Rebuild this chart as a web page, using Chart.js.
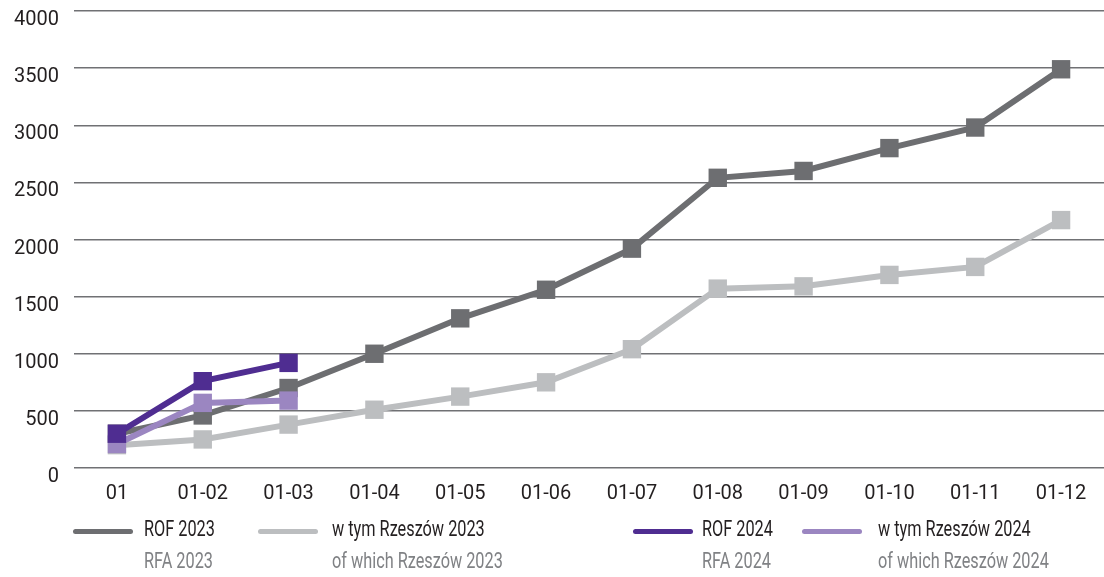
<!DOCTYPE html>
<html>
<head>
<meta charset="utf-8">
<script src="https://cdn.jsdelivr.net/npm/chart.js@4/dist/chart.umd.min.js"></script>
<style>
  body { margin: 0; background: #fff; font-family: Roboto, sans-serif; }
  #wrap { position: relative; width: 1104px; height: 577px; overflow: hidden; }
  #box { position: absolute; left: 0; top: 0; width: 1104px; height: 520px; }
  .sw { position: absolute; height: 5px; border-radius: 3px; top: 529px; }
  .lab { position: absolute; font-size: 22px; line-height: 24px; white-space: nowrap; transform: scaleX(0.74); transform-origin: 0 0; }
  .l1 { top: 517px; color: #231f20; }
  .l2 { top: 549px; color: #808285; }
</style>
</head>
<body>
<div id="wrap">
  <div id="box"><canvas id="chart"></canvas></div>

  <div class="sw" style="left:73px;width:60px;background:#6d6e71"></div>
  <div class="lab l1" style="left:144px">ROF 2023</div>
  <div class="lab l2" style="left:144px">RFA 2023</div>

  <div class="sw" style="left:258px;width:60px;background:#bcbec0"></div>
  <div class="lab l1" style="left:332px">w tym Rzeszów 2023</div>
  <div class="lab l2" style="left:332px">of which Rzeszów 2023</div>

  <div class="sw" style="left:633px;width:60px;background:#4f2d91"></div>
  <div class="lab l1" style="left:702px">ROF 2024</div>
  <div class="lab l2" style="left:702px">RFA 2024</div>

  <div class="sw" style="left:802px;width:60px;background:#9b86c1"></div>
  <div class="lab l1" style="left:878px">w tym Rzeszów 2024</div>
  <div class="lab l2" style="left:878px">of which Rzeszów 2024</div>
</div>

<script>
let months = ['01', '01-02', '01-03', '01-04', '01-05', '01-06', '01-07', '01-08', '01-09', '01-10', '01-11', '01-12']
let rof2023 = [300, 460, 700, 1000, 1310, 1560, 1920, 2540, 2600, 2800, 2980, 3490]
let rzeszow2023 = [200, 250, 380, 510, 625, 750, 1040, 1570, 1590, 1690, 1760, 2170]
let rof2024 = [300, 760, 920]
let rzeszow2024 = [210, 570, 590]
let yTicks = [0, 500, 1000, 1500, 2000, 2500, 3000, 3500, 4000]

let fontFamily = "Roboto, sans-serif"

// one helper so all four lines get the same square markers
function line(label, data, color, order) {
    return {
        label: label,
        data: data,
        borderColor: color,
        backgroundColor: color,
        borderWidth: 6,
        pointStyle: 'rect',
        pointRadius: 13,
        pointHoverRadius: 13,
        pointBorderWidth: 0,
        tension: 0,
        order: order
    }
}

let context = document.querySelector('#chart').getContext('2d')

let chart = new Chart(context, {
    type: 'line',
    data: {
        labels: months,
        datasets: [
            line('ROF 2023', rof2023, '#6d6e71', 2),
            line('w tym Rzeszów 2023', rzeszow2023, '#bcbec0', 3),
            line('ROF 2024', rof2024, '#4f2d91', 0),
            line('w tym Rzeszów 2024', rzeszow2024, '#9b86c1', 1)
        ]
    },
    options: {
        responsive: true,
        maintainAspectRatio: false,
        animation: false,
        layout: {
            autoPadding: false,
            padding: { top: 11, right: 0, bottom: 0, left: 0 }
        },
        plugins: {
            legend: { display: false },
            tooltip: { enabled: false }
        },
        scales: {
            x: {
                offset: true,
                afterFit: function(scale) {
                    scale.paddingLeft = 0
                    scale.paddingRight = 0
                },
                grid: { display: false, drawTicks: false },
                border: { display: false },
                ticks: {
                    padding: 14,
                    color: '#231f20',
                    font: { family: fontFamily, size: 20 },
                    maxRotation: 0,
                    autoSkip: false
                }
            },
            y: {
                min: 0,
                max: 4000,
                afterBuildTicks: function(scale) {
                    scale.ticks = yTicks.map(v => ({ value: v }))
                },
                afterFit: function(scale) {
                    scale.width = 74
                    scale.paddingTop = 0
                    scale.paddingBottom = 0
                },
                grid: { color: '#707174', lineWidth: 1.5, drawTicks: false },
                border: { display: false },
                ticks: {
                    padding: 15,
                    labelOffset: 9,
                    color: '#231f20',
                    font: { family: fontFamily, size: 20 },
                    callback: v => String(v)
                }
            }
        }
    }
})
</script>
</body>
</html>
